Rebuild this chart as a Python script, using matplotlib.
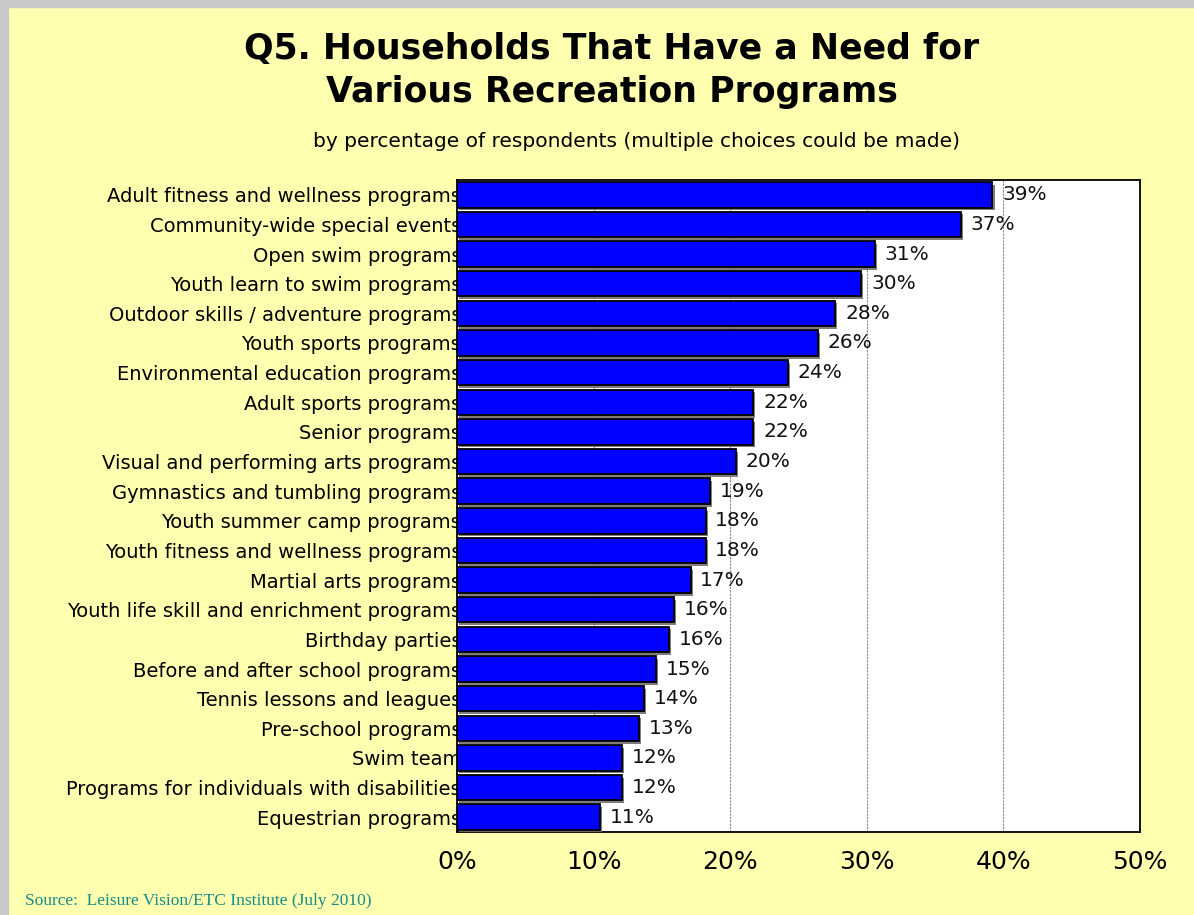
import matplotlib
matplotlib.use('Agg')
import matplotlib.pyplot as plt
import matplotlib.patheffects as pe
from matplotlib.patches import Rectangle

# data, top to bottom as in the chart
programs = ['Adult fitness and wellness programs', 'Community-wide special events',
            'Open swim programs', 'Youth learn to swim programs',
            'Outdoor skills / adventure programs', 'Youth sports programs',
            'Environmental education programs', 'Adult sports programs',
            'Senior programs', 'Visual and performing arts programs',
            'Gymnastics and tumbling programs', 'Youth summer camp programs',
            'Youth fitness and wellness programs', 'Martial arts programs',
            'Youth life skill and enrichment programs', 'Birthday parties',
            'Before and after school programs', 'Tennis lessons and leagues',
            'Pre-school programs', 'Swim team',
            'Programs for individuals with disabilities', 'Equestrian programs']
pct = [39.2, 36.9, 30.6, 29.6, 27.7, 26.4, 24.2, 21.7, 21.7, 20.4, 18.5,
       18.2, 18.2, 17.1, 15.9, 15.5, 14.6, 13.7, 13.3, 12.1, 12.1, 10.5]
pct_labels = ['39%', '37%', '31%', '30%', '28%', '26%', '24%', '22%', '22%', '20%', '19%',
              '18%', '18%', '17%', '16%', '16%', '15%', '14%', '13%', '12%', '12%', '11%']
xticks = [0, 10, 20, 30, 40, 50]

# DejaVu is a bit wider than Arial, close to the spaced-out text of the original
plt.rcParams['font.family'] = ['DejaVu Sans']

fig = plt.figure(figsize=(11.94, 9.15), dpi=100)
fig.patch.set_facecolor('#FFFFB0')

# grey frame on the left and top edge
fig.patches.append(Rectangle((0, 0), 8 / 1194, 1, transform=fig.transFigure,
                             color='#C9C9C9', zorder=0))
fig.patches.append(Rectangle((0, 1 - 7 / 915), 1, 7 / 915, transform=fig.transFigure,
                             color='#C9C9C9', zorder=0))

ax = fig.add_axes([0.3827, 0.0907, 0.5721, 0.7126])
ax.set_facecolor('white')

y = list(range(len(programs)))
bars = ax.barh(y, pct, height=0.86, color='#0000FF', edgecolor='black', linewidth=1.3,
               zorder=3)
for b in bars:
    b.set_path_effects([pe.SimplePatchShadow(offset=(1.5, -2), shadow_rgbFace='#707070',
                                             alpha=0.9), pe.Normal()])

ax.bar_label(bars, labels=pct_labels, padding=7, fontsize=14.5, color='#111111')

ax.set_xlim(0, 50)
ax.set_ylim(len(programs) - 0.5, -0.5)
ax.set_xticks(xticks)
ax.set_xticklabels([f'{t}%' for t in xticks], fontsize=18)
ax.set_yticks(y)
ax.set_yticklabels(programs, fontsize=14)
ax.tick_params(axis='both', length=0)
ax.tick_params(axis='x', pad=13)
ax.tick_params(axis='y', pad=-3)
for lab in ax.get_yticklabels():
    lab.set_zorder(5)
ax.xaxis.grid(True, color='#888888', linestyle=(0, (2, 1)), linewidth=0.8, zorder=0)
for s in ax.spines.values():
    s.set_linewidth(1.3)
    s.set_color('black')

fig.text(0.5126, 0.9355, 'Q5. Households That Have a Need for', ha='center',
         va='baseline', fontsize=25, fontweight='bold')
fig.text(0.5126, 0.8885, 'Various Recreation Programs', ha='center', va='baseline',
         fontsize=25, fontweight='bold')
fig.text(0.5327, 0.8393, 'by percentage of respondents (multiple choices could be made)',
         ha='center', va='baseline', fontsize=14.5)
fig.text(0.021, 0.011, 'Source:  Leisure Vision/ETC Institute (July 2010)', ha='left',
         va='baseline', fontsize=12.5, color='#148A8A', family='Liberation Serif')

fig.savefig('out.png', dpi=100, facecolor=fig.get_facecolor())
